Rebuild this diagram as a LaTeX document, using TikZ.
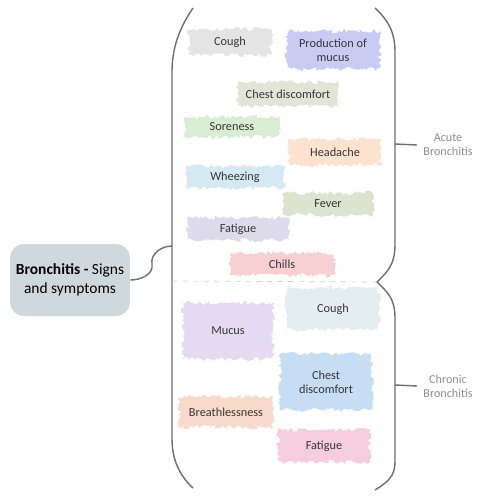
\documentclass[tikz,border=0pt]{standalone}
\usepackage{fontspec}
\setmainfont{Carlito}
\usetikzlibrary{decorations.pathmorphing,positioning}
\definecolor{traitGris}{RGB}{110,110,110}
\definecolor{texteGris}{RGB}{140,140,140}
\definecolor{texteFonce}{RGB}{55,55,55}
\definecolor{fondRacine}{RGB}{207,216,221}
\definecolor{coulToux}{RGB}{228,228,228}
\definecolor{coulMucus}{RGB}{202,203,243}
\definecolor{coulPoitrine}{RGB}{226,228,214}
\definecolor{coulDouleur}{RGB}{217,237,210}
\definecolor{coulTete}{RGB}{252,226,207}
\definecolor{coulSifflement}{RGB}{212,233,241}
\definecolor{coulFievre}{RGB}{222,227,208}
\definecolor{coulFatigue}{RGB}{221,218,236}
\definecolor{coulFrissons}{RGB}{247,207,211}
\definecolor{coulTouxC}{RGB}{228,237,240}
\definecolor{coulMucusC}{RGB}{230,218,242}
\definecolor{coulPoitrineC}{RGB}{198,221,244}
\definecolor{coulSouffle}{RGB}{247,218,203}
\definecolor{coulFatigueC}{RGB}{245,205,223}

\begin{document}
\begin{tikzpicture}[x=0.02cm,y=-0.02cm,
  brush/.style={fill=#1, decorate,
    decoration={random steps,segment length=1.2pt,amplitude=1.2pt},
    text=texteFonce, font=\fontsize{7}{8}\selectfont, align=center, inner sep=0pt},
  trait/.style={draw=traitGris, line width=0.8pt},
  typeLabel/.style={text=texteGris, font=\fontsize{6.9}{8}\selectfont, align=center, inner sep=3.5pt}]
\pgfmathsetseed{7}
\useasboundingbox (0,0) rectangle (480,500);

% racine
\node[fill=fondRacine, rounded corners=8pt, minimum width=116*0.02cm, minimum height=72*0.02cm,
      align=center, text=black, font=\fontsize{8.8}{11}\selectfont] (root) at (70,280)
      {\textbf{Bronchitis -} Signs\\and symptoms};

% accolades
\coordinate (bl) at (172,246);
\coordinate (pointe) at (377,282);
\coordinate (acuteTick) at (395,144);
\coordinate (chronicTick) at (395,385);
\draw[trait] (193,8) .. controls (178,30) and (172,50) .. (172,72) -- (172,438)
  .. controls (172,458) and (178,474) .. (193,488);
\draw[trait] (375,8) .. controls (388,20) and (395,32) .. (395,52) -- (395,245)
  .. controls (395,266) and (386,273) .. (pointe)
  .. controls (386,291) and (395,297) .. (395,318) -- (395,462)
  .. controls (395,476) and (388,482) .. (375,490);
\draw[trait] (root.east) to[out=0,in=-80] (152,264) to[out=100,in=180] (bl);
\draw[dashed, draw=black!20, line width=0.4pt] (172,281) -- (pointe);

% types
\node[typeLabel] (acute) at (448,145) {Acute\\Bronchitis};
\node[typeLabel] (chronic) at (448,386) {Chronic\\Bronchitis};
\draw[trait] (acuteTick) -- (acute.west);
\draw[trait] (chronicTick) -- (chronic.west);

% aigue
\node[brush=coulToux, minimum width=83*0.02cm, minimum height=26*0.02cm] (coughA) at (230,42) {Cough};
\node[brush=coulMucus, minimum width=93*0.02cm, minimum height=38*0.02cm] (prodMucus) at (333,50) {Production of\\mucus};
\node[brush=coulPoitrine, minimum width=100*0.02cm, minimum height=24*0.02cm] (chestA) at (288,94) {Chest discomfort};
\node[brush=coulDouleur, minimum width=95*0.02cm, minimum height=20*0.02cm] (soreness) at (232,127) {Soreness};
\node[brush=coulTete, minimum width=92*0.02cm, minimum height=26*0.02cm] (headache) at (335,152) {Headache};
\node[brush=coulSifflement, minimum width=98*0.02cm, minimum height=22*0.02cm] (wheezing) at (235,177) {Wheezing};
\node[brush=coulFievre, minimum width=90*0.02cm, minimum height=22*0.02cm] (fever) at (328,204) {Fever};
\node[brush=coulFatigue, minimum width=102*0.02cm, minimum height=22*0.02cm] (fatigueA) at (238,229) {Fatigue};
\node[brush=coulFrissons, minimum width=104*0.02cm, minimum height=22*0.02cm] (chills) at (282,264) {Chills};

% chronique
\node[brush=coulTouxC, minimum width=93*0.02cm, minimum height=42*0.02cm] (coughC) at (333,309) {Cough};
\node[brush=coulMucusC, minimum width=90*0.02cm, minimum height=56*0.02cm] (mucusC) at (228,331) {Mucus};
\node[brush=coulPoitrineC, minimum width=92*0.02cm, minimum height=56*0.02cm] (chestC) at (326,382) {Chest\\discomfort};
\node[brush=coulSouffle, minimum width=94*0.02cm, minimum height=30*0.02cm] (breath) at (226,412) {Breathlessness};
\node[brush=coulFatigueC, minimum width=92*0.02cm, minimum height=32*0.02cm] (fatigueC) at (324,446) {Fatigue};
\end{tikzpicture}
\end{document}
